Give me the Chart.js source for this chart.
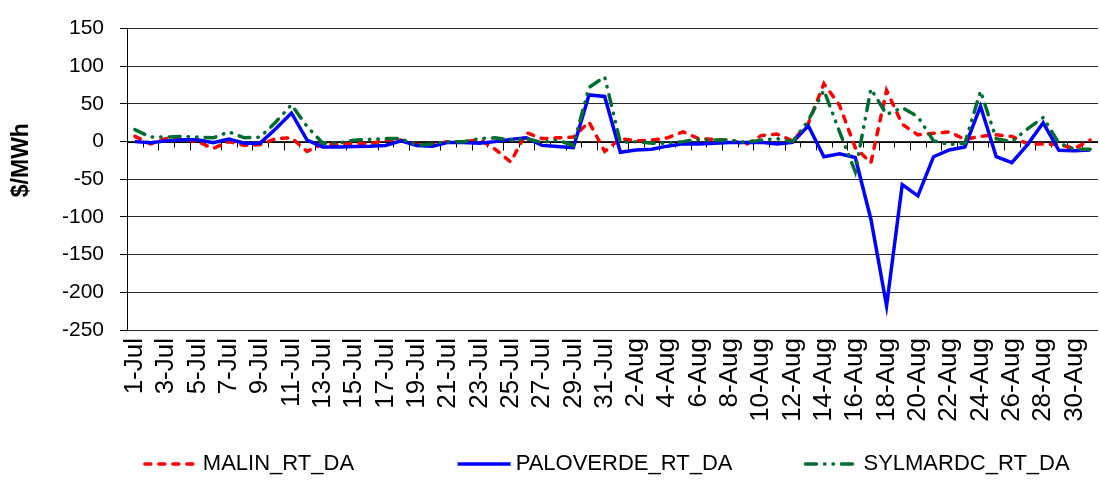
<!doctype html>
<html lang="en">
<head>
  <meta charset="utf-8">
  <title>RT - DA spreads</title>
  <script src="https://cdn.jsdelivr.net/npm/chart.js@4"></script>
  <style>
    body { margin: 0; background: #fff; }
    #wrap { width: 1100px; height: 485px; }
  </style>
</head>
<body>
<div id="wrap"><canvas id="chart1"></canvas></div>
<script>
  const categories = [
    '1-Jul','2-Jul','3-Jul','4-Jul','5-Jul','6-Jul','7-Jul','8-Jul','9-Jul','10-Jul',
    '11-Jul','12-Jul','13-Jul','14-Jul','15-Jul','16-Jul','17-Jul','18-Jul','19-Jul','20-Jul',
    '21-Jul','22-Jul','23-Jul','24-Jul','25-Jul','26-Jul','27-Jul','28-Jul','29-Jul','30-Jul','31-Jul',
    '1-Aug','2-Aug','3-Aug','4-Aug','5-Aug','6-Aug','7-Aug','8-Aug','9-Aug','10-Aug',
    '11-Aug','12-Aug','13-Aug','14-Aug','15-Aug','16-Aug','17-Aug','18-Aug','19-Aug','20-Aug',
    '21-Aug','22-Aug','23-Aug','24-Aug','25-Aug','26-Aug','27-Aug','28-Aug','29-Aug','30-Aug','31-Aug'
  ]

  const malin = [
    7, -3, 4, 3, 0, -9, 0, -5, -4, 4,
    5, -13, -3, -4, -2, -3, 2, 2, -4, -4,
    0, -1, 3, -10, -27, 12, 4, 5, 6, 26, -13,
    4, 1, 2, 5, 13, 4, 3, 2, -4, 8,
    10, 1, 24, 77, 48, -8, -28, 68, 23, 9,
    11, 13, 3, 7, 9, 7, -3, -3, -4, -9, 2
  ]

  const paloverde = [
    0, -1.5, 1, 2.5, 2.5, -1.5, 3.5, -2, -2, 17,
    38, 2, -7, -7, -6.5, -6, -5, 1, -5, -6,
    -1, -1, -2, 0, 3, 5, -5, -6.5, -8, 62, 60,
    -14, -11, -10, -6, -3, -3, -2, -1, -1, -1,
    -3, -1, 21, -20, -16, -21, -103, -218, -57, -72,
    -20, -11, -7, 47, -20, -28, -4, 25, -11.5, -12, -11
  ]

  const sylmardc = [
    16, 6, 6, 7, 6, 5, 13, 5, 6, 26,
    49, 20, -2, -2, 2, 3, 4, 4, -5, -3,
    0, 0, 4, 5, 2, 4, -1, 2, -5, 72, 86,
    -1, 0, -2, -2, 0, 3, 2, 2, -1, 2,
    4, 0, 28, 68, 13, -40, 70, 36, 45, 33,
    1, -4, -2, 67, 4, 0, 17, 32, -2, -10, -10
  ]

  const yTicks = { min: -250, max: 150, step: 50 }

  const font = "'Liberation Sans', Arial, sans-serif"

  // spaces after each legend entry, to spread the entries like the original
  const legendGaps = [14, 9, 3]
  const legendLineWidth = 55

  // category ticks sit on the zero line, like the Excel original
  const zeroAxis = {
    id: 'zeroAxis',
    beforeDatasetsDraw(chart) {
      const { ctx, chartArea, scales: { x, y } } = chart
      const y0 = Math.round(y.getPixelForValue(0)) + 0.5
      const n = categories.length
      ctx.save()
      ctx.strokeStyle = '#000'
      ctx.lineWidth = 1
      ctx.beginPath()
      ctx.moveTo(chartArea.left, y0)
      ctx.lineTo(chartArea.right, y0)
      for (let k = 1; k < n; k++) {
        const xb = Math.round((x.getPixelForValue(k - 1) + x.getPixelForValue(k)) / 2) + 0.5
        const len = k % 2 === 0 ? 8 : 5
        ctx.moveTo(xb, y0)
        ctx.lineTo(xb, y0 + len)
      }
      ctx.stroke()
      ctx.restore()
    }
  }

  // legend samples drawn as dashed lines (the built-in box can't do a dashed line)
  const legendLines = {
    id: 'legendLines',
    afterDraw(chart) {
      const legend = chart.legend
      if (!legend || !legend.legendHitBoxes) return
      const ctx = chart.ctx
      legend.legendItems.forEach((item, i) => {
        const hb = legend.legendHitBoxes[i]
        const ds = chart.data.datasets[item.datasetIndex]
        const yMid = hb.top + hb.height / 2
        ctx.save()
        ctx.strokeStyle = ds.borderColor
        ctx.lineWidth = ds.borderWidth
        ctx.lineCap = ds.borderCapStyle || 'butt'
        ctx.setLineDash(ds.borderDash || [])
        ctx.beginPath()
        ctx.moveTo(hb.left + 8, yMid)
        ctx.lineTo(hb.left + legendLineWidth + 6, yMid)
        ctx.stroke()
        ctx.restore()
      })
    }
  }

  new Chart(document.getElementById('chart1'), {
    type: 'line',
    data: {
      labels: categories,
      datasets: [
        {
          label: 'MALIN_RT_DA',
          data: malin,
          borderColor: '#ff0000',
          backgroundColor: '#ff0000',
          borderWidth: 3.5,
          borderDash: [6, 8],
          borderCapStyle: 'round',
          pointRadius: 0,
          tension: 0,
          order: 3
        },
        {
          label: 'PALOVERDE_RT_DA',
          data: paloverde,
          borderColor: '#0000ff',
          backgroundColor: '#0000ff',
          borderWidth: 3.5,
          pointRadius: 0,
          tension: 0,
          order: 2
        },
        {
          label: 'SYLMARDC_RT_DA',
          data: sylmardc,
          borderColor: '#006e32',
          backgroundColor: '#006e32',
          borderWidth: 3.5,
          borderDash: [11, 8, 0.5, 8, 0.5, 8],
          borderCapStyle: 'round',
          pointRadius: 0,
          tension: 0,
          order: 1
        }
      ]
    },
    options: {
      responsive: true,
      maintainAspectRatio: false,
      animation: false,
      devicePixelRatio: 1,
      layout: { padding: { top: 10, right: 2, bottom: 0, left: 0 } },
      scales: {
        x: {
          offset: true,
          grid: { display: false, drawTicks: false },
          border: { display: false },
          ticks: {
            autoSkip: false,
            minRotation: 90,
            maxRotation: 90,
            padding: 8,
            color: '#000',
            font: { family: font, size: 26 },
            callback: function (value, index) {
              return index % 2 === 0 ? this.getLabelForValue(value) : ''
            }
          },
          afterFit: scale => {
            scale.height = 113
            scale.paddingLeft = 0
            scale.paddingRight = 0
          }
        },
        y: {
          min: yTicks.min,
          max: yTicks.max,
          grid: { color: '#2a2a2a', lineWidth: 1, tickLength: 7, tickColor: '#000' },
          border: { display: true, color: '#000', width: 1 },
          ticks: {
            stepSize: yTicks.step,
            padding: 16,
            color: '#000',
            font: { family: font, size: 21 }
          },
          title: {
            display: true,
            text: '      $/MWh',
            color: '#000',
            padding: { top: 8, bottom: 4 },
            font: { family: font, size: 23, weight: 'bold' }
          },
          afterFit: scale => { scale.width = 127 }
        }
      },
      plugins: {
        legend: {
          position: 'bottom',
          align: 'end',
          labels: {
            color: '#000',
            boxWidth: legendLineWidth,
            boxHeight: 0,
            padding: 10,
            font: { family: font, size: 22 },
            sort: (a, b) => a.datasetIndex - b.datasetIndex,
            generateLabels: chart => Chart.defaults.plugins.legend.labels.generateLabels(chart)
              .map(item => ({
                ...item,
                lineWidth: 0,
                text: item.text + ' '.repeat(legendGaps[item.datasetIndex])
              }))
          }
        },
        tooltip: { enabled: false }
      }
    },
    plugins: [zeroAxis, legendLines]
  })
</script>
</body>
</html>
